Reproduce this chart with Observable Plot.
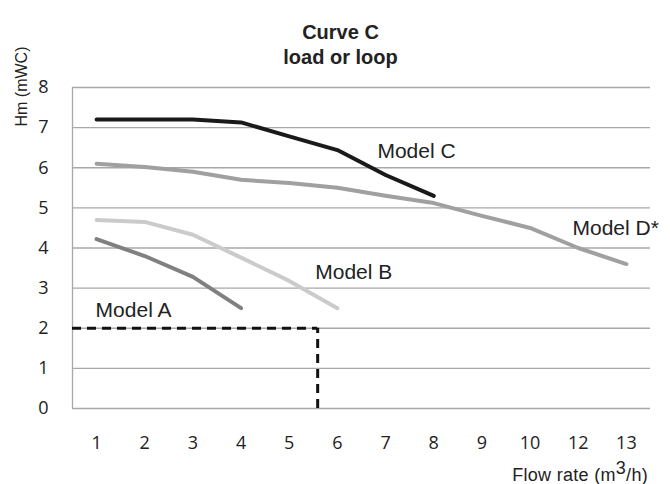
<!DOCTYPE html>
<html><head><meta charset="utf-8">
<script src="https://cdn.jsdelivr.net/npm/d3@7"></script>
<script src="https://cdn.jsdelivr.net/npm/@observablehq/plot@0.6"></script>
<style>body{margin:0;background:#fff} #chart svg{display:block}</style>
</head><body><div id="chart"></div>
<script>
// Category labels of the flow-rate axis (equally spaced categories)
const flowLabels = ["1","2","3","4","5","6","7","8","9","10","12","13"];
const headTicks = [0,1,2,3,4,5,6,7,8];

// Hm (mWC) per flow category
const modelA = [4.22, 3.8, 3.28, 2.5];
const modelB = [4.7, 4.65, 4.33, 3.76, 3.18, 2.5];
const modelC = [7.2, 7.2, 7.2, 7.13, 6.78, 6.44, 5.82, 5.3];
const modelD = [6.1, 6.02, 5.9, 5.7, 5.62, 5.5, 5.3, 5.12, 4.8, 4.5, 4.0, 3.6];

const seriesNames = ["Model A", "Model B", "Model C", "Model D*"];
const seriesColors = ["#808080", "#cbcbcb", "#1a1a1a", "#a0a0a0"];
const seriesValues = [modelA, modelB, modelC, modelD];

// Series label anchor positions (category position, head)
const labelX = [0.98, 5.54, 6.83, 10.88];
const labelY = [2.44, 3.39, 6.40, 4.49];

// Duty point (dashed guide): category position between "5" and "6", head 2 mWC
const dutyPos = 5.59;
const dutyHead = 2;

const lines = seriesValues.map((vals, k) => Plot.line(vals, {
  x: (d, i) => i + 1, y: d => d,
  stroke: seriesColors[k], strokeWidth: 4, strokeLinecap: "round", strokeLinejoin: "round"
}));

const labels = seriesNames.map((name, k) => ({name, x: labelX[k], y: labelY[k]}));

const gridColor = "#a8a8a8";
const txt = "#222";

const svg = Plot.plot({
  width: 670, height: 484,
  marginLeft: 72, marginRight: 20, marginTop: 87, marginBottom: 76,
  style: {fontFamily: "Liberation Sans, Arial, sans-serif", color: txt, background: "#fff"},
  x: {type: "linear", domain: [0.5, 12.5]},
  y: {domain: [0, 8]},
  marks: [
    Plot.ruleY(headTicks, {stroke: gridColor, strokeWidth: 1.3}),
    Plot.ruleX([0.5], {y1: 0, y2: 8, stroke: gridColor, strokeWidth: 1.3}),
    Plot.axisX(d3.range(1, flowLabels.length + 1), {
      tickFormat: i => flowLabels[i - 1], tickSize: 0, tickPadding: 28,
      fontSize: 18, fontFamily: "Open Sans", fill: txt, label: null
    }),
    Plot.axisY(headTicks, {
      tickSize: 0, tickPadding: 24, fontSize: 18, fontFamily: "Open Sans", fill: txt, label: null
    }),
    ...lines,
    Plot.ruleY([dutyHead], {x1: 0.5, x2: dutyPos, stroke: "#111", strokeWidth: 3, strokeDasharray: "9,6"}),
    Plot.ruleX([dutyPos], {y1: 0, y2: dutyHead, stroke: "#111", strokeWidth: 3, strokeDasharray: "9,6"}),
    Plot.text(labels, {x: "x", y: "y", text: "name", textAnchor: "start", fontSize: 21, fill: txt, ariaLabel: "series-labels"}),
    Plot.text(["Curve C"], {frameAnchor: "top", dx: -21, dy: -63, fontSize: 20, fontWeight: "bold", fill: txt, ariaLabel: "title"}),
    Plot.text(["load or loop"], {frameAnchor: "top", dx: -21, dy: -38, fontSize: 20, fontWeight: "bold", fill: txt, ariaLabel: "title"}),
    Plot.text(["Hm (mWC)"], {frameAnchor: "top-left", dx: -57, dy: 39, rotate: -90, textAnchor: "start", fontSize: 16, fill: txt, ariaLabel: "ylabel"})
  ]
});

const s = d3.select(svg);
s.selectAll('g[aria-label="series-labels"] text').attr("letter-spacing", 1.1);
s.selectAll('g[aria-label="title"] text').attr("letter-spacing", 0.6);
s.selectAll('g[aria-label="ylabel"] text').attr("letter-spacing", 0.6);

// x-axis title with a raised "3"
const t = s.append("text").attr("x", 648).attr("y", 481).attr("text-anchor", "end")
  .attr("font-size", 18).attr("fill", txt).attr("letter-spacing", 0.3)
  .attr("font-family", "Liberation Sans, Arial, sans-serif");
t.append("tspan").text("Flow rate (m");
t.append("tspan").attr("dy", -7).text("3");
t.append("tspan").attr("dy", 7).text("/h)");

document.getElementById("chart").append(svg);
</script>
</body></html>
